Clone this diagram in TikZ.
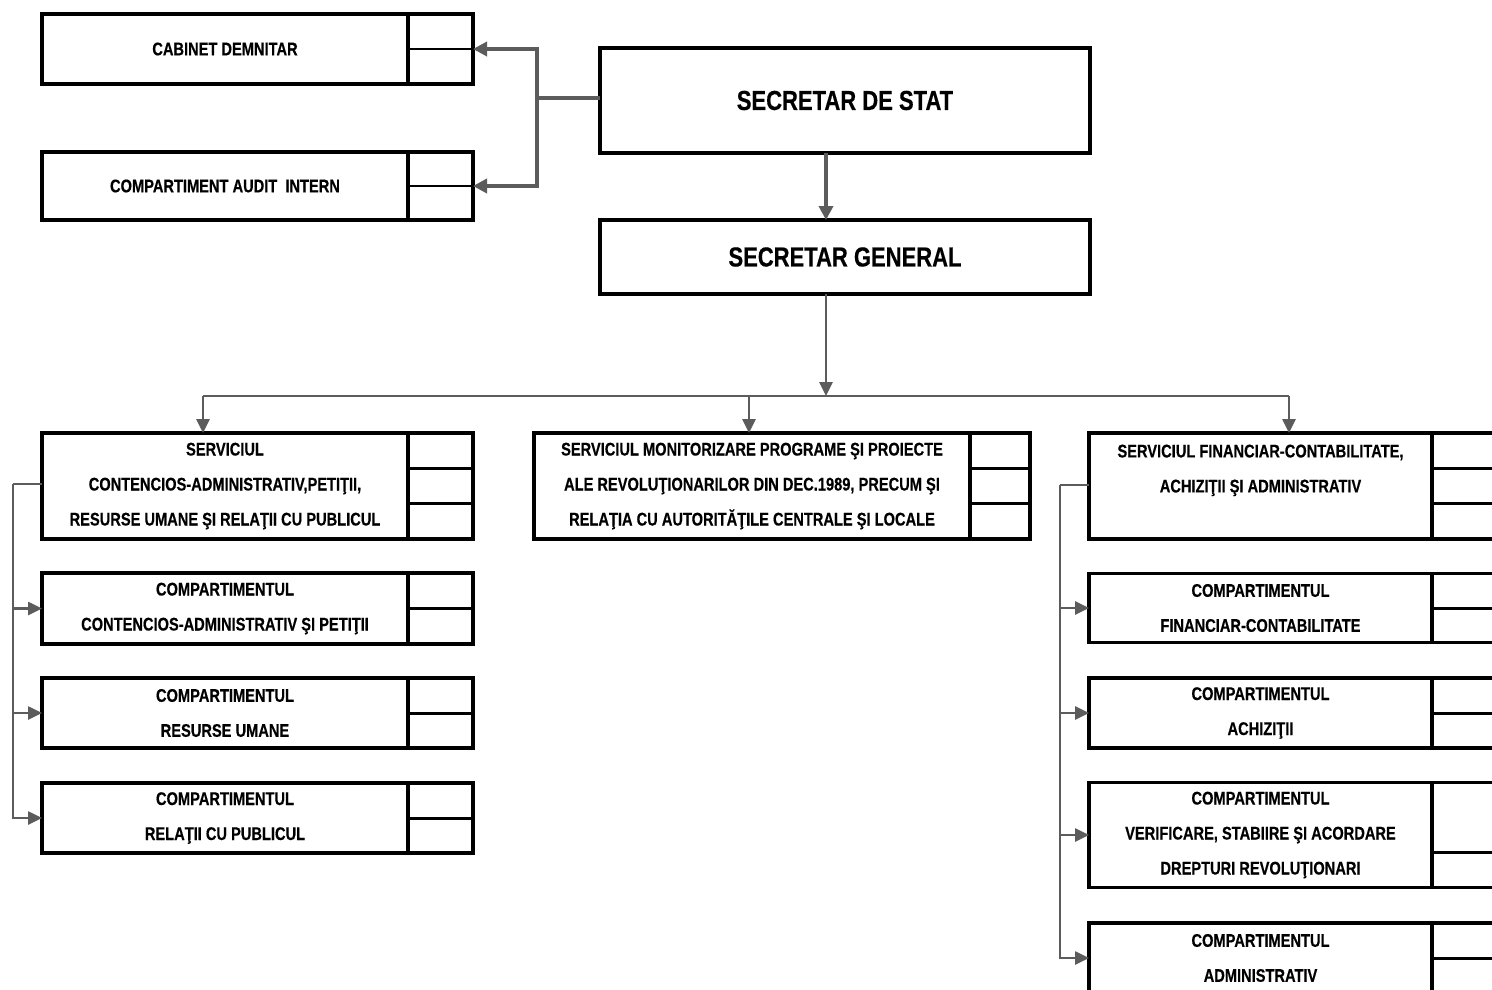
\documentclass[tikz,border=0pt]{standalone}
\usepackage{fontspec}
\setmainfont{Liberation Sans}[FakeStretch=0.8, BoldFeatures={FakeBold=0.4}]
\usetikzlibrary{arrows.meta,calc}
\definecolor{conngray}{HTML}{5C5C5C}
\tikzset{
  orgbox/.style={draw=black, line width=3.2pt, rectangle, inner sep=0pt, outer sep=0pt, align=center,
    font=\fontsize{18.3}{35}\selectfont\bfseries},
  bigbox/.style={draw=black, line width=3.2pt, rectangle, inner sep=0pt, outer sep=0pt, align=center,
    font=\fontsize{27.5}{30}\selectfont\bfseries},
  cellcol/.style={draw=black, line width=3.2pt, rectangle, inner sep=0pt, outer sep=0pt, anchor=west},
  splitline/.style={draw=black, line width=3pt},
  thinsplit/.style={draw=black, line width=2pt},
  cline/.style={draw=conngray, line width=2.6pt},
  thickline/.style={draw=conngray, line width=3.6pt},
  carrow/.style={cline, -{Triangle[length=14pt,width=13pt]}},
  tarrow/.style={thickline, -{Triangle[length=14pt,width=14pt]}},
}
\begin{document}
\begin{tikzpicture}[x=1pt,y=-1pt]
\clip (0,0) rectangle (1492,989);
\fill[white] (0,0) rectangle (1492,989);

% top left boxes
\node[orgbox, minimum width=366pt, minimum height=70pt] (cab) at (225,49) {CABINET DEMNITAR};
\node[cellcol, minimum width=65pt, minimum height=70pt] (cab-c) at (cab.east) {};
\draw[thinsplit] (cab-c.west) -- (cab-c.east);

\node[orgbox, minimum width=366pt, minimum height=68pt] (aud) at (225,186) {COMPARTIMENT AUDIT\ \ INTERN};
\node[cellcol, minimum width=65pt, minimum height=68pt] (aud-c) at (aud.east) {};
\draw[thinsplit] (aud-c.west) -- (aud-c.east);

% top boxes
\node[bigbox, minimum width=490pt, minimum height=105pt] (sds) at (845,100.5) {SECRETAR DE STAT};
\node[bigbox, minimum width=490pt, minimum height=74pt] (sg) at (845,257) {SECRETAR GENERAL};

% left column
\node[orgbox, minimum width=366pt, minimum height=106pt] (s1) at (225,486) {SERVICIUL\\CONTENCIOS-ADMINISTRATIV,PETIŢII,\\RESURSE UMANE ŞI RELAŢII CU PUBLICUL};
\node[cellcol, minimum width=65pt, minimum height=106pt] (s1-c) at (s1.east) {};
\draw[splitline] ($(s1-c.north west)!1/3!(s1-c.south west)$) -- ($(s1-c.north east)!1/3!(s1-c.south east)$);
\draw[splitline] ($(s1-c.north west)!2/3!(s1-c.south west)$) -- ($(s1-c.north east)!2/3!(s1-c.south east)$);

\node[orgbox, minimum width=366pt, minimum height=71pt] (l1) at (225,608.5) {COMPARTIMENTUL\\CONTENCIOS-ADMINISTRATIV ŞI PETIŢII};
\node[cellcol, minimum width=65pt, minimum height=71pt] (l1-c) at (l1.east) {};
\draw[splitline] (l1-c.west) -- (l1-c.east);

\node[orgbox, minimum width=366pt, minimum height=70pt] (l2) at (225,713) {COMPARTIMENTUL\\RESURSE UMANE};
\node[cellcol, minimum width=65pt, minimum height=70pt] (l2-c) at (l2.east) {};
\draw[splitline] (l2-c.west) -- (l2-c.east);

\node[orgbox, minimum width=366pt, minimum height=70pt] (l3) at (225,818) {COMPARTIMENTUL\\RELAŢII CU PUBLICUL};
\node[cellcol, minimum width=65pt, minimum height=70pt] (l3-c) at (l3.east) {};
\draw[splitline] (l3-c.west) -- (l3-c.east);

% middle
\node[orgbox, minimum width=436pt, minimum height=106pt] (s2) at (752,486) {SERVICIUL MONITORIZARE PROGRAME ŞI PROIECTE\\ALE REVOLUŢIONARILOR DIN DEC.1989, PRECUM ŞI\\RELAŢIA CU AUTORITĂŢILE CENTRALE ŞI LOCALE};
\node[cellcol, minimum width=60pt, minimum height=106pt] (s2-c) at (s2.east) {};
\draw[splitline] ($(s2-c.north west)!1/3!(s2-c.south west)$) -- ($(s2-c.north east)!1/3!(s2-c.south east)$);
\draw[splitline] ($(s2-c.north west)!2/3!(s2-c.south west)$) -- ($(s2-c.north east)!2/3!(s2-c.south east)$);

% right column
\node[orgbox, minimum width=343pt, minimum height=106pt] (s3) at (1260.5,486) {SERVICIUL FINANCIAR-CONTABILITATE,\\ACHIZIŢII ŞI ADMINISTRATIV\\\mbox{}};
\node[cellcol, minimum width=90pt, minimum height=106pt] (s3-c) at (s3.east) {};
\draw[splitline] ($(s3-c.north west)!1/3!(s3-c.south west)$) -- ($(s3-c.north east)!1/3!(s3-c.south east)$);
\draw[splitline] ($(s3-c.north west)!2/3!(s3-c.south west)$) -- ($(s3-c.north east)!2/3!(s3-c.south east)$);

\node[orgbox, minimum width=343pt, minimum height=69pt] (r1) at (1260.5,608) {COMPARTIMENTUL\\FINANCIAR-CONTABILITATE};
\node[cellcol, minimum width=90pt, minimum height=69pt] (r1-c) at (r1.east) {};
\draw[splitline] (r1-c.west) -- (r1-c.east);

\node[orgbox, minimum width=343pt, minimum height=70pt] (r2) at (1260.5,713) {COMPARTIMENTUL\\ACHIZIŢII};
\node[cellcol, minimum width=90pt, minimum height=70pt] (r2-c) at (r2.east) {};
\draw[splitline] (r2-c.west) -- (r2-c.east);

\node[orgbox, minimum width=343pt, minimum height=105pt] (r3) at (1260.5,835) {COMPARTIMENTUL\\VERIFICARE, STABIIRE ŞI ACORDARE\\DREPTURI REVOLUŢIONARI};
\node[cellcol, minimum width=90pt, minimum height=105pt] (r3-c) at (r3.east) {};
\draw[splitline] ($(r3-c.north west)!2/3!(r3-c.south west)$) -- ($(r3-c.north east)!2/3!(r3-c.south east)$);

\node[orgbox, minimum width=343pt, minimum height=70pt] (r4) at (1260.5,958) {COMPARTIMENTUL\\ADMINISTRATIV};
\node[cellcol, minimum width=90pt, minimum height=70pt] (r4-c) at (r4.east) {};
\draw[splitline] (r4-c.west) -- (r4-c.east);

% connectors top
\coordinate (jt) at (537,98);
\draw[thickline] (sds.west |- jt) -- (jt);
\draw[tarrow] (jt) |- (cab-c.east);
\draw[tarrow] (jt) |- (aud-c.east);
\draw[tarrow] ([xshift=-19pt]sds.south) -- ([xshift=-19pt]sg.north);

% bus
\coordinate (bus) at (826,396);
\coordinate (bL) at (203,396);
\coordinate (bM) at (749,396);
\coordinate (bR) at (1289,396);
\draw[carrow] ([xshift=-19pt]sg.south) -- (bus);
\draw[cline] (bL) -- (bR);
\draw[carrow] (bL) -- (bL |- s1.north);
\draw[carrow] (bM) -- (bM |- s2.north);
\draw[carrow] (bR) -- (bR |- s3.north);

% left bracket
\coordinate (lb) at (13,484);
\draw[cline] (s1.west |- lb) -- (lb);
\draw[carrow] (lb) |- (l1.west);
\draw[carrow] (lb) |- (l2.west);
\draw[carrow] (lb) |- (l3.west);

% right bracket
\coordinate (rb) at (1060,485);
\draw[cline] (s3.west |- rb) -- (rb);
\draw[carrow] (rb) |- (r1.west);
\draw[carrow] (rb) |- (r2.west);
\draw[carrow] (rb) |- (r3.west);
\draw[carrow] (rb) |- (r4.west);
\end{tikzpicture}
\end{document}
